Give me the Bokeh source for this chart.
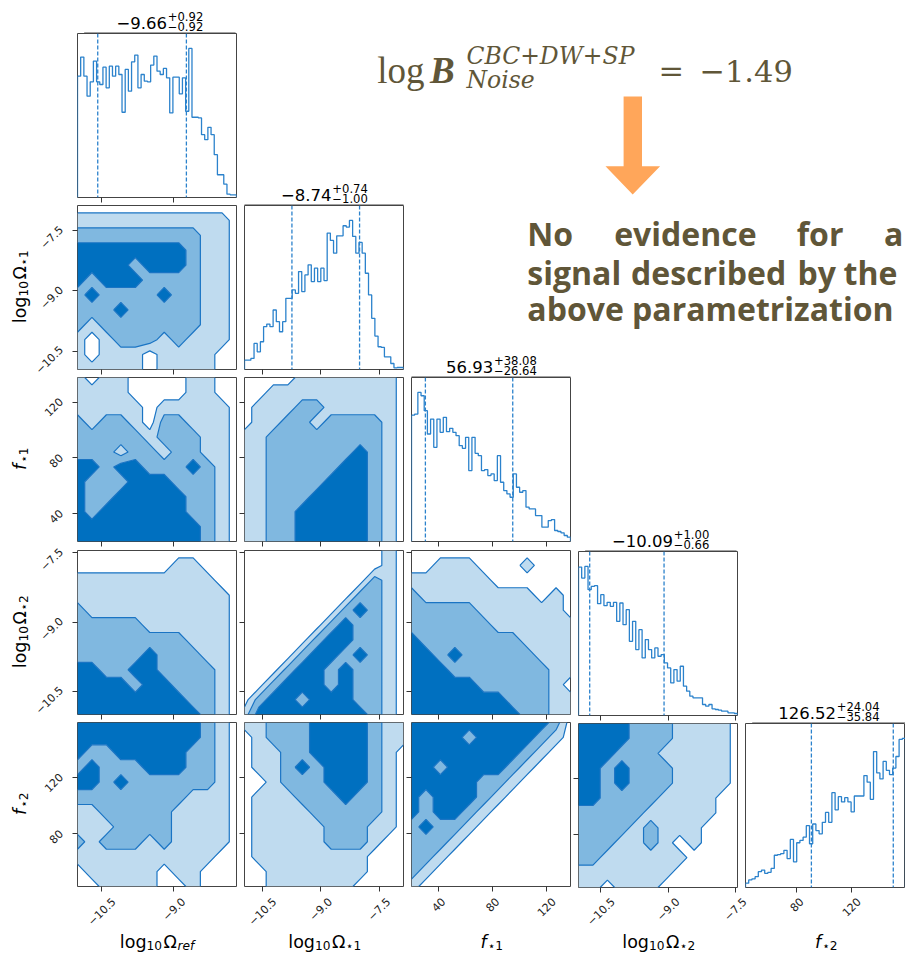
import numpy as np
from bokeh.plotting import figure
from bokeh.models import Range1d, FixedTicker, Label, Span
from bokeh.layouts import row, column
from bokeh.embed import file_html
from bokeh.resources import INLINE

# ---------------- data ----------------
PARAM_RANGES = [(-11.0, -7.7), (-10.96, -6.87), (20.0, 137.8), (-11.0, -7.45), (42.5, 159.5)]
TICKS = [[-10.5, -9.0], [-10.5, -9.0, -7.5], [40, 80, 120], [-10.5, -9.0, -7.5], [80, 120]]
TICK_TEXT = [["−10.5", "−9.0"], ["−10.5", "−9.0", "−7.5"], ["40", "80", "120"],
             ["−10.5", "−9.0", "−7.5"], ["80", "120"]]
MEDIAN = [-9.66, -8.74, 56.93, -10.09, 126.52]
ERR_UP = [0.92, 0.74, 38.08, 1.00, 24.04]
ERR_DN = [0.92, 1.00, 26.64, 0.66, 35.84]

HIST_LOG_OMEGA_REF = [363, 420, 363, 303, 346, 408, 346, 338, 390, 328, 393, 363, 393, 368, 255, 383, 318,
                      406, 426, 328, 368, 348, 346, 396, 423, 378, 368, 386, 358, 253, 360, 360, 310, 358,
                      258, 446, 240, 240, 238, 188, 173, 210, 188, 128, 68, 68, 40, 10, 8, 8]
HIST_LOG_OMEGA_1 = [28, 28, 33, 78, 53, 83, 128, 136, 128, 178, 143, 113, 143, 213, 213, 238, 228, 293, 233,
                    283, 313, 263, 303, 263, 303, 266, 408, 386, 348, 400, 400, 430, 426, 446, 398, 348, 380,
                    348, 288, 223, 153, 100, 68, 66, 38, 38, 18, 5, 6, 6]
HIST_F_1 = [380, 383, 448, 438, 393, 323, 368, 283, 368, 328, 373, 330, 340, 328, 318, 288, 280, 313, 213,
            313, 265, 258, 213, 216, 198, 203, 183, 258, 178, 153, 143, 133, 203, 163, 148, 153, 103, 98, 98,
            78, 78, 43, 43, 63, 66, 33, 30, 26, 18, 13]
HIST_LOG_OMEGA_2 = [446, 413, 448, 378, 388, 390, 336, 363, 330, 340, 328, 340, 283, 338, 273, 318, 223, 283,
                    198, 258, 173, 228, 198, 173, 203, 178, 183, 158, 143, 98, 138, 103, 148, 88, 73, 58, 53,
                    53, 53, 33, 28, 33, 20, 18, 16, 13, 13, 8, 8, 6]
HIST_F_2 = [13, 23, 26, 33, 48, 53, 43, 46, 58, 98, 100, 103, 113, 88, 146, 78, 136, 143, 153, 188, 133, 193,
            173, 163, 198, 228, 198, 288, 236, 276, 260, 273, 260, 230, 278, 278, 278, 340, 320, 268, 413,
            348, 330, 383, 356, 343, 363, 398, 450, 453]
HISTS = [HIST_LOG_OMEGA_REF, HIST_LOG_OMEGA_1, HIST_F_1, HIST_LOG_OMEGA_2, HIST_F_2]

# density level grids (0 = outside, 1..3 = credible regions), rows top -> bottom
DENS_1_0 = ["000000000000", "111111111110", "222222222110", "333333332110", "333323332110",
            "323332222110", "232222322110", "222322222110", "212222222110", "101222121110",
            "101110111100", "111110111100"]
DENS_2_0 = ["101100001100", "111100001100", "111110111110", "212210221110", "222221222110",
            "222122122110", "332332223210", "322233322210", "322333332210", "323333332210",
            "333333333210", "333333333210"]
DENS_3_0 = ["000000000000", "000000011000", "111111111100", "111111111110", "211111111110",
            "222221111110", "222222221110", "222223222110", "332233222210", "333323322210",
            "333333332210", "333333333210"]
DENS_4_0 = ["333333333210", "333333333210", "322333332210", "232223332210", "332322222210",
            "222222221110", "112222211110", "111222211110", "212221211110", "111111111100",
            "011111011000", "001111001000"]
DENS_2_1 = ["000011111110", "001111111110", "011122111110", "011221222210", "112222222210",
            "112222223210", "112222233210", "112222333210", "112223333210", "112233333210",
            "112233333210", "112233333210"]
DENS_3_1 = ["000000000010", "000000000010", "000000000210", "000000002210", "000000023210",
            "000000232210", "000002332210", "000023323210", "000233232210", "002333232210",
            "023323332210", "133333333210"]
DENS_4_1 = ["112223333211", "012223333211", "011223333210", "011232333210", "001222333210",
            "011122232210", "011112222210", "011111222110", "011111222100", "011111111000",
            "001111111000", "001111110000"]
DENS_3_2 = ["000000000000", "001110001000", "111111000000", "211111111010", "222221111110",
            "222222111111", "322222221111", "332322222111", "333222222211", "333332222210",
            "333333322211", "333333332211"]
DENS_4_2 = ["333333333320", "333323333210", "333333332100", "332333321000", "333332210000",
            "323332100000", "323321000000", "232210000000", "222100000000", "221000000000",
            "210000000000", "100000000000"]
DENS_4_3 = ["333322211110", "333322211110", "333222111110", "332322211110", "332322211110",
            "332222111100", "222221111100", "222212111000", "222112101000", "221111110000",
            "111111100000", "110111000000"]
DENS = {(1, 0): DENS_1_0, (2, 0): DENS_2_0, (3, 0): DENS_3_0, (4, 0): DENS_4_0,
        (2, 1): DENS_2_1, (3, 1): DENS_3_1, (4, 1): DENS_4_1,
        (3, 2): DENS_3_2, (4, 2): DENS_4_2, (4, 3): DENS_4_3}
LEVELS = [0.5, 1.5, 2.5, 3.5]

# axis label pieces: (text, role, style)
LABEL_PARTS = [
    [("log", "m", "normal"), ("10", "s", "normal"), ("Ω", "m", "normal"), ("ref", "s", "italic")],
    [("log", "m", "normal"), ("10", "s", "normal"), ("Ω", "m", "normal"), ("⋆1", "s", "normal")],
    [("f", "m", "italic"), ("⋆1", "s", "normal")],
    [("log", "m", "normal"), ("10", "s", "normal"), ("Ω", "m", "normal"), ("⋆2", "s", "normal")],
    [("f", "m", "italic"), ("⋆2", "s", "normal")],
]
BAYES_SUP = "CBC+DW+SP"
BAYES_SUB = "Noise"
BAYES_VALUE = "−1.49"
PARAGRAPH = [["No", "evidence", "for", "a"], ["signal", "described", "by", "the"], ["above parametrization"]]

# ---------------- style / geometry ----------------
FONT = "DejaVu Sans"
LIGHT, MEDIUM, DARK = "#BFDBEF", "#80B8E0", "#0070C0"
LINE_COL = "#1a74c4"
HIST_COL = "#2b82cc"
TXT = "#605638"
ORANGE = "#FFA65A"
FRAME_COL = "#444444"

COL_LEFT = [77, 244, 411, 578, 745]
COL_W = [159, 159, 159, 159, 160]
ROW_TOP = [33, 205, 377, 550, 722]
ROW_H = 164
TICK_FS = 11

EM = {'l': .278, 'o': .612, 'g': .635, 'Ω': .764, 'r': .411, 'e': .615, 'f': .352, '⋆': .5,
      '.': .318, '−': .838, '+': .838}
for d in "0123456789":
    EM[d] = .636


def tw(s, size):
    return sum(EM.get(c, 0.6) for c in s) * size


def put(p, px, py, text, size, font=FONT, style="normal", align="left", baseline="alphabetic",
        color="black", angle=0.0):
    # text figures use page-pixel data coordinates
    p.add_layout(Label(x=px, y=py, text=text, text_font=font, text_font_size=f"{size}px",
                       text_font_style=style, text_align=align, text_baseline=baseline,
                       text_color=color, angle=angle))


def blank(xl, xr, yt, yb):
    p = figure(width=int(round(xr - xl)), height=int(round(yb - yt)),
               x_range=Range1d(xl, xr), y_range=Range1d(yb, yt),
               min_border=0, min_border_left=0, min_border_right=0, min_border_top=0,
               min_border_bottom=0, output_backend="svg", toolbar_location=None, title=None,
               x_axis_location=None, y_axis_location=None)
    p.xgrid.visible = False
    p.ygrid.visible = False
    p.outline_line_color = None
    p.background_fill_color = "white"
    p.border_fill_color = "white"
    return p


def add_title(p, k):
    C = COL_LEFT[k] + COL_W[k] / 2
    T = ROW_TOP[k]
    main = f"{MEDIAN[k]:.2f}".replace("-", "−")
    up = "+" + f"{ERR_UP[k]:.2f}"
    dn = "−" + f"{ERR_DN[k]:.2f}"
    mw = tw(main, 16.5)
    sw = max(tw(up, 11.6), tw(dn, 11.6))
    xj = C - (mw + sw) / 2 + mw
    put(p, xj, T - 11.0, main, 16.5, align="right")
    put(p, xj + 0.8, T - 16.6, up, 11.6)
    put(p, xj + 0.8, T - 7.2, dn, 11.6)
    # top edge of the histogram frame (its own outline sits on the canvas edge)
    p.line([COL_LEFT[k], COL_LEFT[k] + COL_W[k]], [T - 0.5, T - 0.5], line_color=FRAME_COL,
           line_width=1)


MAIN_FS, SUB_FS = 17.5, 12.2


def part_layout(parts):
    out, pos = [], 0.0
    for t, role, st in parts:
        fs = MAIN_FS if role == "m" else SUB_FS
        out.append((pos, t, role, st, fs))
        pos += tw(t, fs)
        if t == "10":
            pos += 1.5
        elif t == "f":
            pos += 1.0
        elif t == "Ω":
            pos += 0.5
    return out, pos


def style_axis(ax, ticks):
    ax.ticker = FixedTicker(ticks=ticks)
    ax.axis_line_color = None
    ax.major_tick_line_color = "#333333"
    ax.major_tick_out = 5
    ax.major_tick_in = 0
    ax.minor_tick_line_color = None
    ax.major_label_text_font_size = "0px"
    ax.major_label_text_color = None
    ax.major_label_standoff = 0


def borders(i, j):
    left = 7
    right = 0 if j == 4 else 1
    top = 0 if i == j else [1, 1, 1, 2, 1][i]
    bottom = 7
    return left, right, top, bottom


def px_of(j, v):
    x0, x1 = PARAM_RANGES[j]
    return COL_LEFT[j] + (v - x0) / (x1 - x0) * COL_W[j]


def py_of(i, v):
    y0, y1 = PARAM_RANGES[i]
    return ROW_TOP[i] + (y1 - v) / (y1 - y0) * ROW_H


figs = {}
for i in range(5):
    for j in range(i + 1):
        L, R, Tb, B = borders(i, j)
        fw = COL_W[j]
        x0, x1 = PARAM_RANGES[j]
        if i == j:
            y0, y1 = 0.0, 1.1 * max(HISTS[j])
        else:
            y0, y1 = PARAM_RANGES[i]
        p = figure(width=L + fw + R, height=Tb + ROW_H + B,
                   x_range=Range1d(x0, x1), y_range=Range1d(y0, y1),
                   min_border_left=L, min_border_right=R, min_border_top=Tb, min_border_bottom=B,
                   output_backend="svg", toolbar_location=None, title=None,
                   y_axis_location=(None if i == j else "left"))
        p.xgrid.visible = False
        p.ygrid.visible = False
        p.outline_line_color = FRAME_COL
        p.outline_line_width = 1
        p.background_fill_color = "white"
        p.border_fill_color = "white"
        style_axis(p.xaxis[0], TICKS[j])
        if i != j:
            style_axis(p.yaxis[0], TICKS[i])
        if i == j:
            h = np.array(HISTS[j], float)
            edges = np.linspace(x0, x1, len(h) + 1)
            xs = np.repeat(edges, 2)
            ys = np.concatenate([[0.0], np.repeat(h, 2), [0.0]])
            p.line(xs, ys, line_color=HIST_COL, line_width=1.3)
            for q in (MEDIAN[j] - ERR_DN[j], MEDIAN[j] + ERR_UP[j]):
                p.add_layout(Span(location=q, dimension="height", line_color=HIST_COL,
                                  line_dash="4 2", line_width=1.3))
        else:
            Z = np.array([[float(c) for c in r] for r in DENS[(i, j)]])[::-1]
            ny, nx = Z.shape
            X, Y = np.meshgrid(np.linspace(x0, x1, nx), np.linspace(y0, y1, ny))
            p.contour(X, Y, Z, levels=LEVELS, fill_color=[LIGHT, MEDIUM, DARK],
                      line_color=LINE_COL, line_width=1.2)
        figs[(i, j)] = p

# ---------------- text areas ----------------
leftfig = blank(0, 70, 0, 893)
bottomfig = blank(0, 905, 893, 953)
title0fig = blank(70, 237, 0, 33)
textA = blank(237, 905, 0, 205)
textB = blank(404, 905, 205, 377)
title3fig = blank(571, 738, 376, 550)
title4fig = blank(738, 905, 376, 722)

title_figs = [title0fig, textA, textB, title3fig, title4fig]
for k in range(5):
    add_title(title_figs[k], k)

# x tick labels and x axis labels
for j in range(5):
    for t, s in zip(TICKS[j], TICK_TEXT[j]):
        bb = (tw(s, TICK_FS) + 7.5) * 0.7071
        put(bottomfig, px_of(j, t), 895.5 + bb / 2, s, TICK_FS, align="center", baseline="middle",
            color="#222222", angle=np.pi / 4)
    C = COL_LEFT[j] + COL_W[j] / 2
    items, total = part_layout(LABEL_PARTS[j])
    for pos, t, role, st, fs in items:
        put(bottomfig, C - total / 2 + pos, 940.5 if role == "m" else 944, t, fs, style=st)

# y tick labels and y axis labels
for i in range(1, 5):
    for t, s in zip(TICKS[i], TICK_TEXT[i]):
        L_ = tw(s, TICK_FS)
        bb = (L_ + 7.5) * 0.7071
        put(leftfig, 63.3 - bb / 2, py_of(i, t) + 0.3 * L_ - 1.5, s, TICK_FS, align="center",
            baseline="middle", color="#222222", angle=np.pi / 4)
    Cy = ROW_TOP[i] + ROW_H / 2
    items, total = part_layout(LABEL_PARTS[i])
    for pos, t, role, st, fs in items:
        put(leftfig, 19.5 if role == "m" else 23.0, Cy + total / 2 - pos, t, fs, style=st,
            angle=np.pi / 2)

# Bayes factor formula, arrow, conclusion
put(textA, 376.7, 70, "log", 37, font="Liberation Serif", color=TXT)
put(textA, 429.5, 70, "B", 37, font="Liberation Serif", style="bold italic", color=TXT)
put(textA, 466, 55, BAYES_SUP, 23.5, font="DejaVu Serif", style="italic", color=TXT)
put(textA, 466, 79, BAYES_SUB, 23.5, font="DejaVu Serif", style="italic", color=TXT)
put(textA, 658, 70, "=", 30.5, font="DejaVu Serif", color=TXT)
put(textA, 698.9, 70, BAYES_VALUE, 30.5, font="DejaVu Serif", color=TXT)
arrow_x = [623.1, 641.5, 641.5, 659.6, 632.2, 605, 623.1]
arrow_y = [96, 96, 165.7, 165.7, 194, 165.7, 165.7]
textA.patch(arrow_x, arrow_y, fill_color=ORANGE, line_color=None)

word_x = [[526.8, 613.7, 796.2, 883.5], [526.8, 630.5, 797, 843], [526.8]]
line_y = [233.3, 271.7, 308.3]
for words, xs_, yb in zip(PARAGRAPH, word_x, line_y):
    for w, xw in zip(words, xs_):
        put(textB, xw, yb, w, 32, font="Open Sans", style="bold", color=TXT)

# ---------------- layout ----------------
col0 = column(title0fig, figs[0, 0], figs[1, 0], figs[2, 0], figs[3, 0], figs[4, 0])
col1 = column(figs[1, 1], figs[2, 1], figs[3, 1], figs[4, 1])
col2 = column(figs[2, 2], figs[3, 2], figs[4, 2])
col3 = column(title3fig, figs[3, 3], figs[4, 3])
col4 = column(title4fig, figs[4, 4])
R3 = column(textB, row(col2, col3, col4))
R2 = row(col1, R3)
Rr = column(textA, R2)
grid_block = row(col0, Rr)
root = column(row(leftfig, grid_block), bottomfig)

open("out.html", "w").write(file_html(root, INLINE, title="corner"))
